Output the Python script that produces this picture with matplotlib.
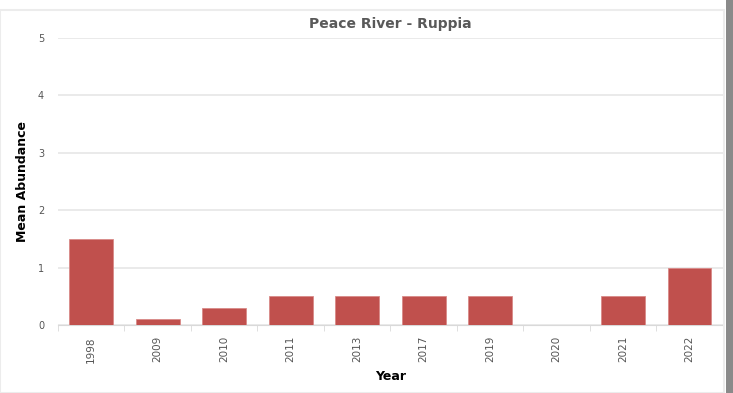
import matplotlib
matplotlib.use("Agg")
import matplotlib.pyplot as plt
from matplotlib.patches import Rectangle

# Data
years = ["1998", "2009", "2010", "2011", "2013", "2017", "2019", "2020", "2021", "2022"]
mean_abundance = [1.5, 0.1, 0.3, 0.5, 0.5, 0.5, 0.5, 0.0, 0.5, 1.0]
y_ticks = [0, 1, 2, 3, 4, 5]

BAR_COLOR = "#c0504d"
GRID_COLOR = "#e6e6e6"

fig = plt.figure(figsize=(7.33, 3.93), dpi=100)
fig.patch.set_facecolor("white")

# light frame and dark right edge like the screenshot
fig.add_artist(Rectangle((0.0, 0.0), 0.988, 0.975, transform=fig.transFigure,
                         facecolor="none", edgecolor="#ececec", linewidth=1.5))
fig.add_artist(Rectangle((0.990, 0.0), 0.010, 1.0, transform=fig.transFigure,
                         facecolor="#8a8a8a", edgecolor="none"))

ax = fig.add_axes([0.079, 0.173, 0.907, 0.730])
x = range(len(years))
ax.bar(x, mean_abundance, width=0.66, color=BAR_COLOR, edgecolor="#d98a88",
       linewidth=0.6, zorder=3)

ax.set_xlim(-0.5, len(years) - 0.5)
ax.set_ylim(0, 5)
ax.set_yticks(y_ticks)
ax.set_yticklabels([str(t) for t in y_ticks], fontsize=7, color="#555555")
ax.set_xticks(list(x))
ax.set_xticklabels(years, rotation=90, fontsize=7.5, color="#555555")

ax.grid(axis="y", color=GRID_COLOR, linewidth=1.2, zorder=0)
for side in ["top", "right", "left"]:
    ax.spines[side].set_visible(False)
ax.spines["bottom"].set_color("#d9d9d9")
ax.tick_params(axis="y", length=0, pad=10)
ax.tick_params(axis="x", length=0, pad=8)

# small separators between categories on the axis
ax.set_xticks([i + 0.5 for i in range(-1, len(years))], minor=True)
ax.tick_params(axis="x", which="minor", length=4, color="#d9d9d9")

ax.set_title("Peace River - Ruppia", fontsize=10, fontweight="bold", color="#595959", pad=7)
ax.set_ylabel("Mean Abundance", fontsize=9, fontweight="bold", color="black", labelpad=6)
ax.set_xlabel("Year", fontsize=9, fontweight="bold", color="black", labelpad=5)

fig.savefig("out.png", dpi=100)
